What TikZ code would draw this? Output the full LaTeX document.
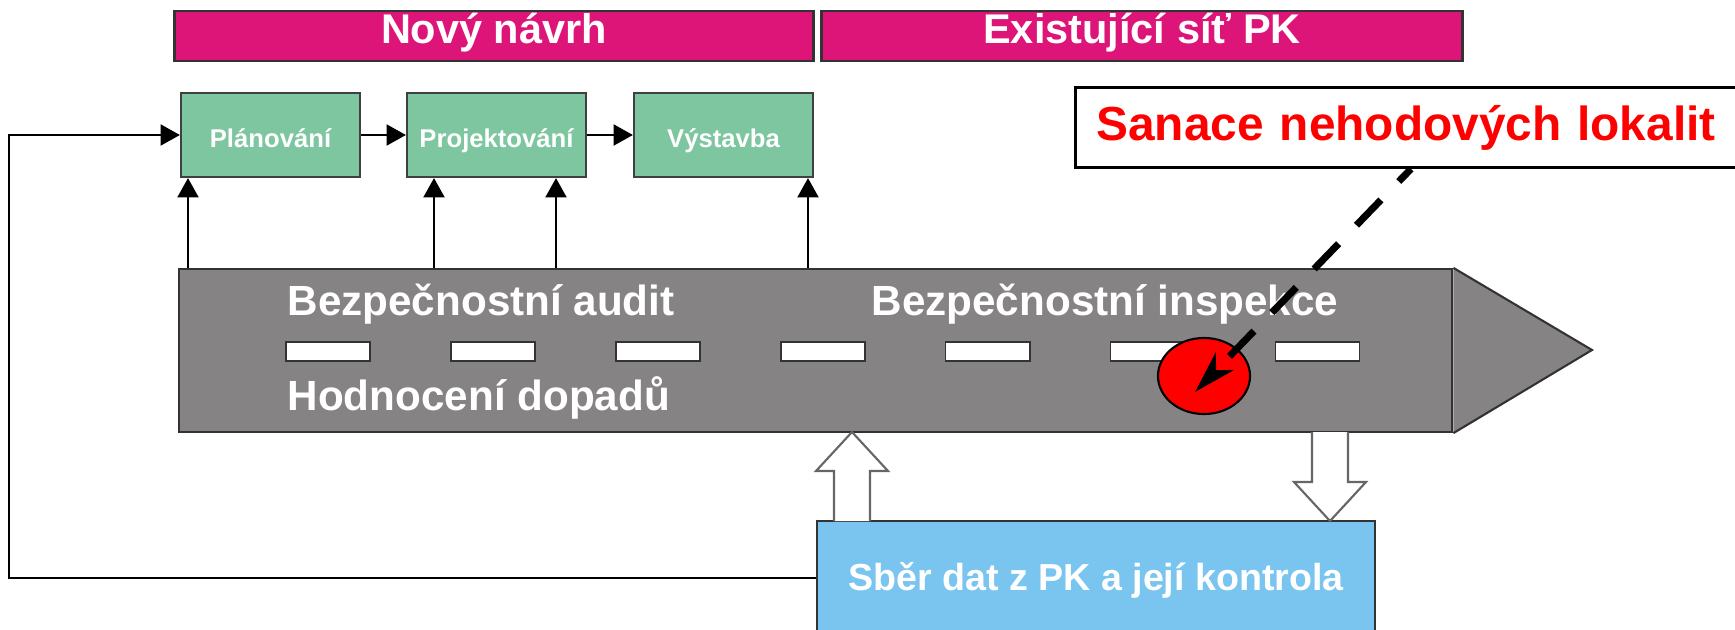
\documentclass[tikz,border=0pt]{standalone}
\usepackage{fontspec}
\setmainfont{Liberation Sans}
\usetikzlibrary{arrows.meta,shapes.geometric}

\definecolor{headpink}{RGB}{221,21,121}
\definecolor{stagegreen}{RGB}{125,198,160}
\definecolor{roadgray}{RGB}{134,131,132}
\definecolor{datablue}{RGB}{121,197,240}

\tikzset{
  header/.style={draw=black!80,line width=0.8pt,fill=headpink,text=white,
    font=\fontsize{11.8}{14}\selectfont\bfseries,minimum height=0.5cm,
    text height=0.8em,text depth=0.4em,inner sep=0pt},
  stage/.style={draw=black!75,line width=0.6pt,fill=stagegreen,text=white,
    font=\fontsize{7.3}{9}\selectfont\bfseries,minimum width=1.79cm,
    minimum height=0.84cm,text height=0.8em,text depth=0.08em,inner sep=0pt},
  arr/.style={-{Triangle[length=5.5pt,width=6pt]},line width=0.5pt},
  marking/.style={draw=black!80,line width=0.5pt,fill=white,
    minimum width=0.84cm,minimum height=0.19cm,inner sep=0pt},
  bartext/.style={text=white,font=\fontsize{12}{14}\selectfont\bfseries,
    anchor=base west,inner sep=0pt},
  hollow/.pic={\draw[black!60,line width=0.6pt,fill=white]
    (-18,0) -- (-18,-50) -- (-36,-50) -- (0,-89) -- (36,-50) -- (18,-50) -- (18,0);}
}

\begin{document}
\begin{tikzpicture}[x=0.01cm,y=-0.01cm]
\clip (0,0) rectangle (1735,630);
% phases
\node[header,minimum width=6.38cm] (novy) at (494,36) {Nový návrh};
\node[header,minimum width=6.40cm] (sit) at (1142,36) {Existující síť PK};
% stages
\node[stage] (plan) at (270.5,135) {Plánování};
\node[stage] (proj) at (496.5,135) {Projektování};
\node[stage] (vyst) at (723.5,135) {Výstavba};
\draw[arr] (plan) -- (proj);
\draw[arr] (proj) -- (vyst);
% road
\node[draw=black!80,line width=0.6pt,fill=roadgray,minimum width=12.73cm,
  minimum height=1.63cm,inner sep=0pt] (bar) at (815.5,350.5) {};
\draw[black!80,line width=0.6pt,fill=roadgray] (bar.north east) -- (1592,350) -- (bar.south east);
\foreach \i in {0,...,6}
  \node[marking] (m\i) at (328+164.9*\i,351.5) {};
\node[bartext] (audit) at (287,315) {Bezpečnostní audit};
\node[bartext] (insp) at (871,315) {Bezpečnostní inspekce};
\node[bartext] (dopad) at (287,410) {Hodnocení dopadů};
\foreach \x/\n in {188/plan,434/proj,556/proj,808/vyst}
  \draw[arr] (bar.north -| \x,0) -- (\n.south -| \x,0);
% black spot
\node[ellipse,draw=black,line width=0.6pt,fill=red,minimum width=0.92cm,
  minimum height=0.76cm,inner sep=0pt] (spot) at (1204,376) {};
\coordinate (hit) at (1195,392);
\node[draw=black,line width=0.8pt,fill=white,anchor=north west,minimum height=0.8cm,
  inner xsep=0.21cm,text width=6.4cm,align=left,text=red,
  font=\fontsize{13.6}{16}\selectfont\bfseries,text height=0.8em,text depth=0.08em]
  (sanace) at (1074,86) {Sanace nehodových lokalit};
\draw[line width=2pt,dash pattern=on 10pt off 7.3pt,dash phase=5pt,
  -{Stealth[length=12pt,width=7pt,inset=3.4pt]}] (sanace.south -| 1411,0) -- (hit);
% data
\node[draw=black!80,line width=0.6pt,fill=datablue,minimum width=5.58cm,
  minimum height=1.14cm,text=white,font=\fontsize{10.7}{13}\selectfont\bfseries,
  text height=0.8em,text depth=0.08em] (sber) at (1096,578) {Sběr dat z PK a její kontrola};
\pic at (852,521) {hollow};
\pic[rotate=180] at (1330,432) {hollow};
% feedback
\coordinate (loop) at (9,0);
\draw[arr] (sber.west) -- (sber.west -| loop) |- (plan.west);
\end{tikzpicture}
\end{document}
